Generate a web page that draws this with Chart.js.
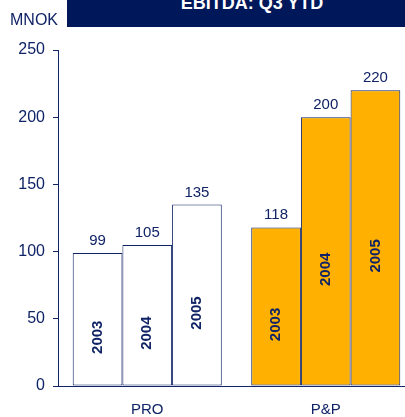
<!DOCTYPE html>
<html>
<head>
<meta charset="utf-8">
<script src="https://cdn.jsdelivr.net/npm/chart.js@4"></script>
<style>
  html, body { margin: 0; padding: 0; background: #fff; overflow: hidden; width: 405px; height: 417px; }
  #wrap { position: relative; width: 415px; height: 417px; }
  #banner { position: absolute; left: 67px; top: 0; width: 348px; height: 27px; background: #00175a; overflow: hidden; }
  #banner span { position: absolute; left: 0; width: 370px; top: -7px; text-align: center; color: #fff;
    font: bold 18px "Liberation Sans", Arial, sans-serif; }
  #unit { position: absolute; left: 10px; top: 11px; color: #0f2366; font: 16px "Liberation Sans", Arial, sans-serif; }
  canvas { position: absolute; left: 0; top: 0; }
</style>
</head>
<body>
<div id="wrap">
  <canvas id="chart" width="415" height="417"></canvas>
  <div id="banner"><span>EBITDA: Q3 YTD</span></div>
  <div id="unit">MNOK</div>
</div>
<script>
const categories = ['PRO', 'P&P'];
const years = ['2003', '2004', '2005'];
const proValues = [99, 105, 135];
const ppValues = [118, 200, 220];
const yTicks = [0, 50, 100, 150, 200, 250];

const NAVY = '#0f2366';
const ORANGE = '#ffb000';
const FONT = '"Liberation Sans", Arial, sans-serif';

// one dataset per year, one bar per group
const datasets = years.map((year, i) => ({
    label: year,
    data: [proValues[i], ppValues[i]],
    backgroundColor: ['#ffffff', ORANGE],
    borderColor: NAVY,
    borderWidth: 1,
    borderSkipped: false,
}));

// value above each bar, year rotated inside it
const barLabels = {
    id: 'barLabels',
    afterDatasetsDraw(chart) {
        const ctx = chart.ctx;
        ctx.save();
        ctx.fillStyle = NAVY;
        chart.data.datasets.forEach((ds, di) => {
            chart.getDatasetMeta(di).data.forEach((bar, bi) => {
                ctx.font = '15px ' + FONT;
                ctx.textAlign = 'center';
                ctx.textBaseline = 'alphabetic';
                ctx.fillText(String(ds.data[bi]), bar.x, bar.y - 8);

                const mid = (bar.y + bar.base) / 2 + 18;
                ctx.save();
                ctx.translate(bar.x, mid);
                ctx.rotate(-Math.PI / 2);
                ctx.font = 'bold 15px ' + FONT;
                ctx.textBaseline = 'middle';
                ctx.fillText(ds.label, 0, 0);
                ctx.restore();
            });
        });
        ctx.restore();
    }
};

const ctx = document.getElementById('chart').getContext('2d');
new Chart(ctx, {
    type: 'bar',
    data: { labels: categories, datasets: datasets },
    plugins: [barLabels],
    options: {
        responsive: false,
        animation: false,
        layout: { padding: { top: 50, left: 0, right: 0, bottom: 0 } },
        datasets: { bar: { barPercentage: 1, categoryPercentage: 0.835 } },
        plugins: { legend: { display: false }, tooltip: { enabled: false } },
        scales: {
            x: {
                afterFit: (scale) => { scale.height = 31; },
                grid: { display: false, drawTicks: false },
                border: { display: true, color: NAVY, width: 1 },
                ticks: { color: NAVY, font: { family: FONT, size: 15 }, padding: 15 },
            },
            y: {
                min: 0,
                max: 250,
                afterFit: (scale) => { scale.width = 58; },
                afterBuildTicks: (scale) => { scale.ticks = yTicks.map(v => ({ value: v })); },
                grid: { drawOnChartArea: false, drawTicks: true, tickLength: 5, tickColor: NAVY },
                border: { display: true, color: NAVY, width: 1 },
                ticks: { color: NAVY, font: { family: FONT, size: 16 }, padding: 8 },
            },
        },
    },
});
</script>
</body>
</html>
